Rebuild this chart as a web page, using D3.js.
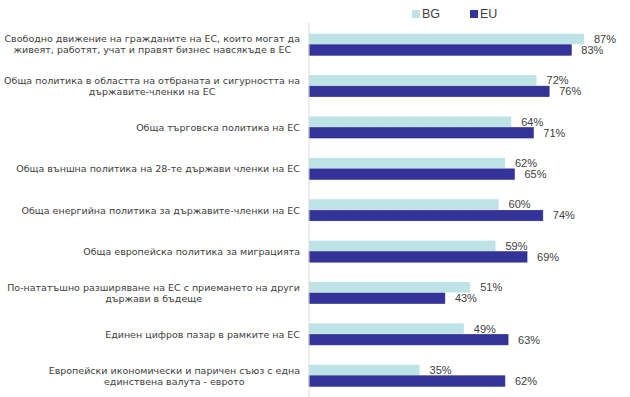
<!DOCTYPE html>
<html>
<head>
<meta charset="UTF-8">
<title>BG vs EU</title>
<script src="https://cdn.jsdelivr.net/npm/d3@7"></script>
<style>
  body { margin: 0; background: #fff; }
  .cat { font-family: "DejaVu Sans", Verdana, sans-serif; font-size: 9.5px; fill: #404040; }
  .val { font-family: "Liberation Sans", Arial, sans-serif; font-size: 11px; fill: #404040; }
  .leg { font-family: "Liberation Sans", Arial, sans-serif; font-size: 12.5px; fill: #404040; }
</style>
</head>
<body>
<div id="chart"></div>
<script>
// categories, each split into its display lines
const categories = [
  ["Свободно движение на гражданите на ЕС, които могат да", "живеят, работят, учат и правят бизнес навсякъде в ЕС"],
  ["Обща политика в областта на отбраната и сигурността на", "държавите-членки на ЕС"],
  ["Обща търговска политика на ЕС"],
  ["Обща външна политика на 28-те държави членки на ЕС"],
  ["Обща енергийна политика за държавите-членки на ЕС"],
  ["Обща европейска политика за миграцията"],
  ["По-нататъшно разширяване на ЕС с приемането на други", "държави в бъдеще"],
  ["Единен цифров пазар в рамките на ЕС"],
  ["Европейски икономически и паричен съюз с една", "единствена валута - еврото"]
];
const seriesNames = ["BG", "EU"];
const bgValues = [87, 72, 64, 62, 60, 59, 51, 49, 35];
const euValues = [83, 76, 71, 65, 74, 69, 43, 63, 62];

const colors = { BG: "#bde3e6", EU: "#333399" };

const width = 630, height = 397;
const svg = d3.select("#chart").append("svg")
    .attr("width", width)
    .attr("height", height);

const idx = d3.range(categories.length);

const x = d3.scaleLinear().domain([0, 100]).range([309, 625]);
const y = d3.scaleBand().domain(idx).range([23.8, 396.2])
    .paddingInner(0.48).paddingOuter(0.24);
const ySub = d3.scaleBand().domain(seriesNames).range([0, y.bandwidth()])
    .paddingInner(0.05);

const rows = idx.map(i => ({ i: i, lines: categories[i], BG: bgValues[i], EU: euValues[i] }));

// bars
const group = svg.selectAll(".grp")
    .data(rows)
    .join("g")
    .attr("class", "grp")
    .attr("transform", d => "translate(0," + y(d.i) + ")");

group.selectAll("rect")
    .data(d => seriesNames.map(s => ({ s: s, v: d[s] })))
    .join("rect")
    .attr("x", x(0))
    .attr("y", d => ySub(d.s))
    .attr("width", d => x(d.v) - x(0))
    .attr("height", ySub.bandwidth())
    .attr("fill", d => colors[d.s])
    .attr("stroke", d => d.s == "EU" ? "#2a2a84" : "none")
    .attr("stroke-width", 0.6);

group.selectAll("text.val")
    .data(d => seriesNames.map(s => ({ s: s, v: d[s] })))
    .join("text")
    .attr("class", "val")
    .attr("x", d => x(d.v) + 10)
    .attr("y", d => ySub(d.s) + ySub.bandwidth() / 2 + 1)
    .attr("dominant-baseline", "middle")
    .text(d => d.v + "%");

// axis line
svg.append("line")
    .attr("x1", x(0)).attr("x2", x(0))
    .attr("y1", 23).attr("y2", height)
    .attr("stroke", "#d9d9d9")
    .attr("stroke-width", 1);

// category labels: lines centred inside a block right-aligned at the axis
const lineH = 11;
rows.forEach(d => {
    const g = svg.append("g");
    const texts = d.lines.map((ln, k) => g.append("text")
        .attr("class", "cat")
        .attr("dominant-baseline", "middle")
        .attr("text-anchor", "middle")
        .attr("y", y(d.i) + y.bandwidth() / 2 + 1 + (k - (d.lines.length - 1) / 2) * lineH)
        .text(ln));
    const maxW = d3.max(texts, t => t.node().getComputedTextLength());
    texts.forEach(t => t.attr("x", 300 - maxW / 2));
});

// legend
const legX = { BG: 412, EU: 470 };
seriesNames.forEach(s => {
    svg.append("rect")
        .attr("x", legX[s]).attr("y", 10)
        .attr("width", 8).attr("height", 8)
        .attr("fill", colors[s]);
    svg.append("text")
        .attr("class", "leg")
        .attr("x", legX[s] + 10)
        .attr("y", 14.5)
        .attr("dominant-baseline", "middle")
        .text(s);
});
</script>
</body>
</html>
